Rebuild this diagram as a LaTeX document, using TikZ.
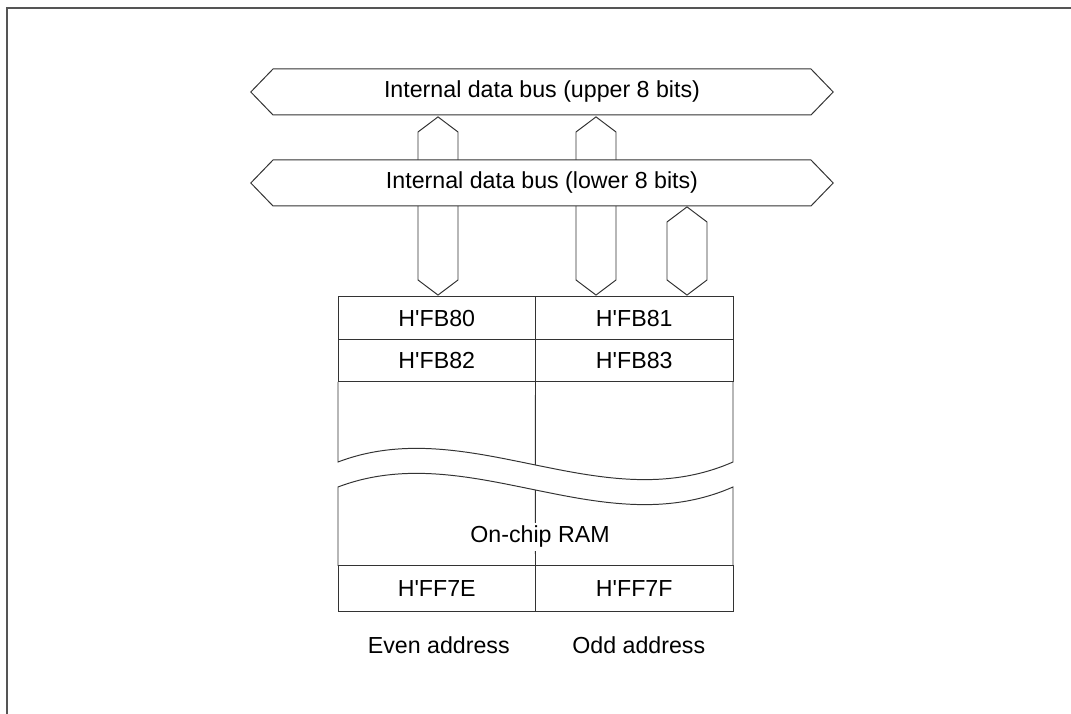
\documentclass[tikz,border=0pt]{standalone}
\usepackage{fontspec}
\setmainfont{Liberation Sans}
\usetikzlibrary{positioning, shapes.symbols}
\definecolor{lnblack}{HTML}{333333}
\definecolor{frgray}{HTML}{555555}
\newcommand{\hq}{H\textquotesingle}

\begin{document}
\begin{tikzpicture}[
  every node/.style={font=\fontsize{16.5pt}{19pt}\selectfont},
  bus/.style={signal, signal to=west and east, signal pointer angle=92, draw=lnblack, fill=white, line width=0.7pt, minimum width=14.56cm, minimum height=1.15cm, inner sep=0pt},
  pipe/.style={signal, signal to=north and south, signal pointer angle=106, draw=lnblack, fill=white, line width=0.7pt, minimum width=1.0cm, inner sep=0pt},
  cell/.style={rectangle, draw=lnblack, line width=0.7pt, minimum width=4.9375cm, minimum height=1.06cm, outer sep=0pt, inner sep=0pt},
  line/.style={draw=lnblack, line width=0.7pt},
]
  \useasboundingbox (0,0) rectangle (26.775,17.85);
  % Frame
  \draw[frgray, line width=1.3pt] (0.175,0) -- (0.175,17.65) -- (26.775,17.65);

  % Bus connections
  \node[pipe, minimum height=3.7cm] (pipe1) at (10.95,12.7) {};
  \node[pipe, minimum height=3.7cm] (pipe2) at (14.9,12.7) {};
  \node[pipe, minimum height=1.45cm] (pipe3) at (17.175,11.575) {};

  % Internal buses
  \node[bus] (ubus) at (13.55,15.55) {Internal data bus (upper 8 bits)};
  \node[bus] (lbus) at (13.55,13.275) {Internal data bus (lower 8 bits)};

  % On-chip RAM
  \node[cell, anchor=north west] (fb80) at (8.45,10.425) {\hq FB80};
  \node[cell, right=0pt of fb80] (fb81) {\hq FB81};
  \node[cell, below=0pt of fb80] (fb82) {\hq FB82};
  \node[cell, right=0pt of fb82] (fb83) {\hq FB83};
  \node[cell, anchor=south west, minimum height=1.15cm] (ff7e) at (8.45,2.55) {\hq FF7E};
  \node[cell, right=0pt of ff7e, minimum height=1.15cm] (ff7f) {\hq FF7F};

  \draw[line] (fb82.south west) -- (8.45,6.3)
    .. controls (11.74,7.55) and (15.03,4.85) .. (18.325,6.3) coordinate[pos=0.5] (wup)
    -- (fb83.south east);
  \draw[line] (ff7e.north west) -- (8.45,5.675)
    .. controls (11.74,6.925) and (15.03,4.225) .. (18.325,5.675) coordinate[pos=0.5] (wlo)
    -- (ff7f.north east);
  \draw[line] (fb82.south east) -- (wup);
  \draw[line] (wlo) -- (ff7e.north east);
  \node[fill=white, inner sep=2pt] (ram) at (13.5,4.425) {On-chip RAM};

  % Address labels
  \node (even) at (10.97,1.725) {Even address};
  \node (odd) at (15.97,1.725) {Odd address};
\end{tikzpicture}
\end{document}
